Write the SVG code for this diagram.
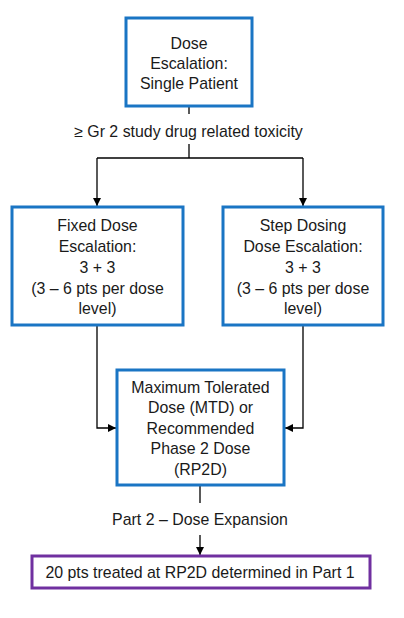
<svg xmlns="http://www.w3.org/2000/svg" width="404" height="618" viewBox="0 0 404 618">
<style>
text{font-family:"Liberation Sans",Arial,sans-serif;font-size:15.9px;fill:#1a1a1a;text-anchor:middle;dominant-baseline:central}
.blue{fill:#fff;stroke:#1a75c4;stroke-width:3}
.purple{fill:#fff;stroke:#7030a0;stroke-width:3}
.ln{fill:none;stroke:#000;stroke-width:1.3}
</style>
<defs>
<marker id="ah" viewBox="0 0 10 10" refX="10" refY="5" markerWidth="8" markerHeight="8" markerUnits="userSpaceOnUse" orient="auto">
<path d="M0,0 L10,5 L0,10 z" fill="#000"/>
</marker>
</defs>
<rect width="404" height="618" fill="#fff"/>
<g id="connectors">
<path class="ln" d="M189,106 V114"/>
<path class="ln" d="M189,144 V158"/>
<path class="ln" d="M97,158 H303"/>
<path class="ln" d="M97,158 V206" marker-end="url(#ah)"/>
<path class="ln" d="M303,158 V206" marker-end="url(#ah)"/>
<path class="ln" d="M97,325 V428 H116" marker-end="url(#ah)"/>
<path class="ln" d="M303,325 V428 H285" marker-end="url(#ah)"/>
<path class="ln" d="M200,486 V503"/>
<path class="ln" d="M200,535 V555" marker-end="url(#ah)"/>
<text x="188.5" y="131">≥ Gr 2 study drug related toxicity</text>
<text x="200" y="519">Part 2 – Dose Expansion</text>
</g>
<g id="node-single">
<rect class="blue" x="126" y="18" width="126" height="88"/>
<text x="189" y="43">Dose</text>
<text x="189" y="63">Escalation:</text>
<text x="189" y="83">Single Patient</text>
</g>
<g id="node-fixed">
<rect class="blue" x="12" y="207" width="171" height="118"/>
<text x="97.5" y="225">Fixed Dose</text>
<text x="97.5" y="246">Escalation:</text>
<text x="97.5" y="267">3 + 3</text>
<text x="97.5" y="288">(3 – 6 pts per dose</text>
<text x="97.5" y="308">level)</text>
</g>
<g id="node-step">
<rect class="blue" x="223" y="207" width="160" height="118"/>
<text x="303" y="225">Step Dosing</text>
<text x="303" y="246">Dose Escalation:</text>
<text x="303" y="267">3 + 3</text>
<text x="303" y="288">(3 – 6 pts per dose</text>
<text x="303" y="308">level)</text>
</g>
<g id="node-mtd">
<rect class="blue" x="117" y="370" width="167" height="115"/>
<text x="200.5" y="387">Maximum Tolerated</text>
<text x="200.5" y="407">Dose (MTD) or</text>
<text x="200.5" y="428">Recommended</text>
<text x="200.5" y="448">Phase 2 Dose</text>
<text x="200.5" y="469">(RP2D)</text>
</g>
<g id="node-expansion">
<rect class="purple" x="32" y="556" width="338" height="32"/>
<text x="200" y="572">20 pts treated at RP2D determined in Part 1</text>
</g>
</svg>
